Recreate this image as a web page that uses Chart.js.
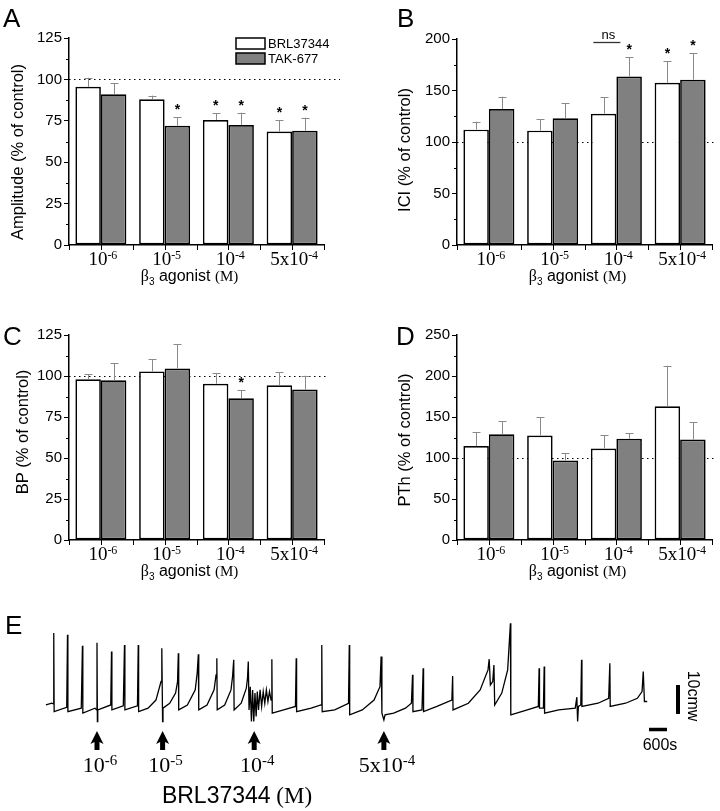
<!DOCTYPE html>
<html>
<head>
<meta charset="utf-8">
<script src="https://cdn.jsdelivr.net/npm/chart.js@4.4.1/dist/chart.umd.min.js"></script>
<style>
  body { margin: 0; background: #fff; }
  #fig { position: relative; width: 720px; height: 811px; }
  canvas { position: absolute; }
</style>
</head>
<body>
<div id="fig">
  <canvas id="cA" width="360" height="290" style="left:0;top:0"></canvas>
  <canvas id="cB" width="360" height="290" style="left:360px;top:0"></canvas>
  <canvas id="cC" width="360" height="290" style="left:0;top:290px"></canvas>
  <canvas id="cD" width="360" height="290" style="left:360px;top:290px"></canvas>
  <canvas id="cE" width="720" height="211" style="left:0;top:600px"></canvas>
</div>
<script>
// tick labels: 10^-6, 10^-5, 10^-4, 5x10^-4 (M)
const doseBase = ['10', '10', '10', '5x10'];
const doseExp = ['-6', '-5', '-4', '-4'];
const seriesNames = ['BRL37344', 'TAK-677'];

// A: amplitude (% of control)
const ampBRL = [95.5, 88, 75.5, 68.5];
const ampBRLErr = [5.5, 2.2, 4, 7];
const ampBRLSig = [0, 0, 1, 1];
const ampTAK = [91, 72, 72.5, 69];
const ampTAKErr = [6.6, 5.3, 7.4, 7.9];
const ampTAKSig = [0, 1, 1, 1];

// B: ICI (% of control)
const iciBRL = [112, 111, 127.5, 157.5];
const iciBRLErr = [7.7, 11, 16, 20.8];
const iciBRLSig = [0, 0, 0, 1];
const iciTAK = [132, 123, 163.5, 160.5];
const iciTAKErr = [12, 14.5, 19, 25.5];
const iciTAKSig = [0, 0, 1, 1];

// C: BP (% of control)
const bpBRL = [98, 102.8, 95.3, 94.3];
const bpBRLErr = [3, 7.4, 6.3, 8.1];
const bpBRLSig = [0, 0, 0, 0];
const bpTAK = [97.4, 104.5, 86.4, 91.7];
const bpTAKErr = [10.3, 14.8, 5.1, 8.5];
const bpTAKSig = [0, 0, 1, 0];

// D: PTh (% of control)
const pthBRL = [114.5, 127.5, 111.5, 163];
const pthBRLErr = [16.8, 22, 16, 49.5];
const pthBRLSig = [0, 0, 0, 0];
const pthTAK = [129, 97, 123.5, 122.5];
const pthTAKErr = [15.7, 8.7, 6.5, 21];
const pthTAKSig = [0, 0, 0, 0];

// E: cystometry trace, [time s, pressure cmw]
const tracePoints = [
  [30, 3.8], [226, 4.4], [278, 4.2], [292, 28.6], [305, 1.5], [724, 3.0], [750, 28.0], [763, 1.5],
  [1209, 2.7], [1248, 24.2], [1261, 1.0], [1667, 2.7], [1719, 2.1], [1733, 25.3], [1746, -1.9], [1759, 2.1],
  [2191, 3.8], [2217, 22.2], [2230, 2.1], [2610, 3.5], [2650, 24.5], [2663, 2.1], [3082, 3.5], [3108, 24.5],
  [3121, 1.5], [3436, 2.7], [3698, 5.5], [3868, 11.9], [3894, 23.4], [3920, -1.9], [3933, 2.7], [4156, 4.4],
  [4353, 7.9], [4418, 11.9], [4444, 21.6], [4457, 2.1], [4746, 3.8], [5008, 9.0], [5073, 14.8], [5112, 21.3],
  [5125, 2.1], [5401, 3.8], [5636, 9.0], [5702, 14.2], [5728, 19.9], [5741, 2.1], [5990, 3.8], [6200, 9.0],
  [6252, 13.6], [6291, 19.4], [6304, 2.1], [6540, 4.4], [6711, 9.6], [6750, 13.0], [6776, 18.8], [6802, 2.1],
  [6842, 10.1], [6881, -1.9], [6920, 9.0], [6959, -1.9], [6999, 7.9], [7038, -0.2], [7077, 8.4], [7117, 2.1],
  [7169, 9.0], [7221, 3.3], [7274, 8.4], [7326, 4.4], [7379, 9.0], [7431, 5.0], [7483, 8.4], [7536, 5.5],
  [7562, 19.6], [7575, 1.0], [7955, 2.1], [8348, 3.3], [8374, 19.9], [8387, 1.5], [8872, 2.7], [9200, 3.8],
  [9226, 24.5], [9239, 1.5], [9658, 2.1], [10117, 4.4], [10143, 24.5], [10156, 0.4], [10575, 2.1], [10968, 5.5],
  [11165, 10.1], [11204, 20.5], [11230, 1.0], [11296, -1.35], [11335, 0.4], [11623, 1.0], [12016, 2.7], [12213, 4.4],
  [12252, 14.2], [12265, 1.5], [12566, 2.1], [12606, 16.5], [12619, 1.5], [13064, 3.3], [13562, 5.5], [13588, 13.8],
  [13601, 2.1], [14112, 4.4], [14505, 9.0], [14767, 15.9], [14806, 19.6], [14846, 10.7], [14924, 11.9], [14964, 17.6],
  [14990, 3.8], [15226, 7.9], [15422, 15.9], [15514, 32.0], [15527, 0.4], [16077, 2.1], [16444, 3.3], [16470, 16.5],
  [16483, 2.7], [16614, 2.7], [16640, 17.1], [16653, 1.0], [17125, 2.1], [17675, 2.7], [17728, 6.5], [17754, -1.9],
  [17780, 3.3], [17859, 3.8], [17885, 19.4], [17898, 3.3], [18435, 4.4], [18789, 6.1], [18828, 18.2], [18841, 3.3],
  [19352, 4.4], [19745, 6.1], [19902, 8.4], [19942, 15.3], [19981, 5.0], [20073, 5.0]
];
const doseTimes = [1733, 3920, 6973, 11296];
const doseLabelBase = ['10', '10', '10', '5x10'];
const doseLabelExp = ['-6', '-5', '-4', '-4'];

const SANS = "Arial, 'Liberation Sans', Helvetica, sans-serif";
const SERIF = "'Times New Roman', 'Liberation Serif', serif";

function seg(ctx, x1, y1, x2, y2) {
  ctx.beginPath(); ctx.moveTo(x1, y1); ctx.lineTo(x2, y2); ctx.stroke();
}

// draws text runs (mixed fonts) centred on cx
function runs(ctx, parts, cx, by) {
  let w = 0;
  parts.forEach(p => { ctx.font = p.f; p.w = ctx.measureText(p.t).width; w += p.w; });
  let x0 = cx - w / 2;
  ctx.textAlign = 'left'; ctx.textBaseline = 'alphabetic';
  parts.forEach(p => { ctx.font = p.f; ctx.fillText(p.t, x0, by + (p.dy || 0)); x0 += p.w; });
}

function supLabel(ctx, base, exp, cx, by, size, expSize, raise) {
  runs(ctx, [{t: base, f: size + 'px ' + SERIF}, {t: exp, f: expSize + 'px ' + SERIF, dy: -raise}], cx, by);
}

function panelDecor(o) {
  return {
    id: 'decor',
    beforeDatasetsDraw(chart) {
      const {ctx, chartArea: a, scales: {y}} = chart;
      const py = Math.round(y.getPixelForValue(100)) + 0.5;
      ctx.save();
      ctx.strokeStyle = '#000'; ctx.lineWidth = 1;
      ctx.setLineDash([1.5, 3.5]);
      seg(ctx, a.left, py, o.dotEnd, py);
      ctx.restore();
    },
    afterDraw(chart) {
      const {ctx, chartArea: a, scales: {x, y}} = chart;
      ctx.save();
      ctx.strokeStyle = '#000'; ctx.fillStyle = '#000'; ctx.lineWidth = 1;

      // minor y ticks
      for (let v = o.step / 2; v < o.max; v += o.step) {
        const py = Math.round(y.getPixelForValue(v)) + 0.5;
        seg(ctx, a.left - 3, py, a.left, py);
      }
      // x ticks at category centres and boundaries
      const n = chart.data.labels.length;
      const cw = (a.right - a.left) / n;
      for (let i = 0; i <= n; i++) {
        const px = Math.round(a.left + i * cw) + 0.5;
        seg(ctx, px, a.bottom, px, a.bottom + 5);
      }
      for (let i = 0; i < n; i++) {
        const px = Math.round(x.getPixelForValue(i)) + 0.5;
        seg(ctx, px, a.bottom, px, a.bottom + 5);
      }

      // error bars and stars
      chart.data.datasets.forEach((ds, di) => {
        chart.getDatasetMeta(di).data.forEach((bar, i) => {
          const top = y.getPixelForValue(ds.data[i] + ds.err[i]);
          ctx.strokeStyle = '#8a8a8a'; ctx.lineWidth = 1;
          const bx = Math.round(bar.x) + 0.5;
          seg(ctx, bx, bar.y, bx, top);
          seg(ctx, bx - 4, Math.round(top) + 0.5, bx + 4, Math.round(top) + 0.5);
          if (ds.sig[i]) {
            ctx.fillStyle = '#000';
            ctx.font = 'bold 14px ' + SANS;
            ctx.textAlign = 'center'; ctx.textBaseline = 'alphabetic';
            ctx.fillText('*', bar.x, top - 3);
          }
        });
      });

      ctx.fillStyle = '#000'; ctx.strokeStyle = '#000';
      // x tick labels
      for (let i = 0; i < n; i++) {
        supLabel(ctx, doseBase[i], doseExp[i], x.getPixelForValue(i) + 2, a.bottom + 20, 19, 12, 6);
      }
      // x title
      runs(ctx, [
        {t: '\u03b2', f: '16px ' + SERIF},
        {t: '3', f: '10px ' + SANS, dy: 4},
        {t: ' agonist ', f: '16px ' + SANS},
        {t: '(M)', f: '15px ' + SERIF}
      ], (a.left + a.right) / 2 - 7, a.bottom + 36);

      // y title
      ctx.save();
      ctx.translate(o.titleX, o.titleY);
      ctx.rotate(-Math.PI / 2);
      ctx.font = '16.5px ' + SANS;
      ctx.textAlign = 'center'; ctx.textBaseline = 'middle';
      ctx.fillText(o.title, 0, 0);
      ctx.restore();

      // panel letter
      ctx.font = '26px ' + SANS;
      ctx.textAlign = 'left'; ctx.textBaseline = 'alphabetic';
      ctx.fillText(o.letter, o.letterX, o.letterY);

      if (o.legend) {
        const boxes = [['#fff', 38], ['#808080', 53]];
        boxes.forEach((b, i) => {
          ctx.fillStyle = b[0];
          ctx.fillRect(236, b[1], 29, 11);
          ctx.lineWidth = 1.5; ctx.strokeStyle = '#000';
          ctx.strokeRect(236, b[1], 29, 11);
          ctx.fillStyle = '#000';
          ctx.font = '13px ' + SANS;
          ctx.textBaseline = 'middle';
          ctx.fillText(seriesNames[i], 268, b[1] + 6);
        });
      }
      if (o.ns) {
        const cx = x.getPixelForValue(o.ns);
        ctx.lineWidth = 1.3; ctx.strokeStyle = '#333';
        seg(ctx, cx - 23, 42.5, cx + 4, 42.5);
        ctx.fillStyle = '#000';
        ctx.font = '13px ' + SANS;
        ctx.textAlign = 'center'; ctx.textBaseline = 'alphabetic';
        ctx.fillText('ns', cx - 8, 39);
      }
      ctx.restore();
    }
  };
}

function barPanel(id, o) {
  const cv = document.getElementById(id);
  const W = cv.width, H = cv.height;
  const dsBase = {borderColor: '#000', borderWidth: 1.7, borderSkipped: false,
                  categoryPercentage: 0.8, barPercentage: 1};
  return new Chart(cv, {
    type: 'bar',
    data: {
      labels: doseBase.map((b, i) => b + doseExp[i]),
      datasets: [
        Object.assign({label: seriesNames[0], data: o.brl, err: o.brlErr, sig: o.brlSig, backgroundColor: '#fff'}, dsBase),
        Object.assign({label: seriesNames[1], data: o.tak, err: o.takErr, sig: o.takSig, backgroundColor: '#808080'}, dsBase)
      ]
    },
    options: {
      responsive: false,
      animation: false,
      events: [],
      layout: {padding: {left: 0, top: o.area[1], right: W - o.area[2], bottom: 0}},
      plugins: {legend: {display: false}, tooltip: {enabled: false}},
      scales: {
        x: {
          grid: {display: false},
          border: {color: '#000', width: 1.5},
          ticks: {display: false},
          afterFit: s => { s.height = H - o.area[3]; }
        },
        y: {
          min: 0, max: o.max,
          ticks: {stepSize: o.step, color: '#000', font: {family: SANS, size: 15}, padding: 2},
          grid: {drawOnChartArea: false, color: '#000', tickLength: 5},
          border: {color: '#000', width: 1.5},
          afterFit: s => { s.width = o.area[0]; }
        }
      }
    },
    plugins: [panelDecor(o)]
  });
}

barPanel('cA', {brl: ampBRL, brlErr: ampBRLErr, brlSig: ampBRLSig, tak: ampTAK, takErr: ampTAKErr, takSig: ampTAKSig,
  area: [69, 38, 324, 245], max: 125, step: 25, title: 'Amplitude (% of control)', titleX: 18.5, titleY: 152,
  dotEnd: 340, letter: 'A', letterX: 3, letterY: 27, legend: true});
barPanel('cB', {brl: iciBRL, brlErr: iciBRLErr, brlSig: iciBRLSig, tak: iciTAK, takErr: iciTAKErr, takSig: iciTAKSig,
  area: [97, 39, 352, 245], max: 200, step: 50, title: 'ICI (% of control)', titleX: 45, titleY: 150,
  dotEnd: 357, letter: 'B', letterX: 37, letterY: 27, ns: 2});
barPanel('cC', {brl: bpBRL, brlErr: bpBRLErr, brlSig: bpBRLSig, tak: bpTAK, takErr: bpTAKErr, takSig: bpTAKSig,
  area: [69, 45, 324, 250], max: 125, step: 25, title: 'BP (% of control)', titleX: 23.5, titleY: 142,
  dotEnd: 328, letter: 'C', letterX: 3, letterY: 55});
barPanel('cD', {brl: pthBRL, brlErr: pthBRLErr, brlSig: pthBRLSig, tak: pthTAK, takErr: pthTAKErr, takSig: pthTAKSig,
  area: [97, 45, 352, 250], max: 250, step: 50, title: 'PTh (% of control)', titleX: 45, titleY: 150,
  dotEnd: 357, letter: 'D', letterX: 36, letterY: 55});

// E: raw trace with dose arrows and scale bars
const traceDecor = {
  id: 'traceDecor',
  afterDraw(chart) {
    const {ctx, scales: {x, y}} = chart;
    ctx.save();
    ctx.fillStyle = '#000'; ctx.strokeStyle = '#000';
    ctx.font = '26px ' + SANS;
    ctx.textAlign = 'left'; ctx.textBaseline = 'alphabetic';
    ctx.fillText('E', 5, 34);

    doseTimes.forEach((t, i) => {
      const ax = x.getPixelForValue(t);
      ctx.beginPath();
      ctx.moveTo(ax, 131);
      ctx.lineTo(ax - 6.5, 144);
      ctx.lineTo(ax - 2.5, 142);
      ctx.lineTo(ax - 2.5, 150);
      ctx.lineTo(ax + 2.5, 150);
      ctx.lineTo(ax + 2.5, 142);
      ctx.lineTo(ax + 6.5, 144);
      ctx.closePath();
      ctx.fill();
      supLabel(ctx, doseLabelBase[i], doseLabelExp[i], ax + 3, 172, 22, 15, 7);
    });
    runs(ctx, [{t: 'BRL37344', f: '23px ' + SANS}, {t: ' (M)', f: '23px ' + SERIF}], 237, 203);

    // scale bars: 10 cmw and 600 s
    ctx.lineWidth = 4;
    const vx = x.getPixelForValue(21100);
    seg(ctx, vx, y.getPixelForValue(0.7), vx, y.getPixelForValue(10.7));
    ctx.lineWidth = 3.5;
    const hy = y.getPixelForValue(-4.66);
    seg(ctx, x.getPixelForValue(20133), hy, x.getPixelForValue(20733), hy);

    ctx.font = '16px ' + SANS;
    ctx.textAlign = 'center'; ctx.textBaseline = 'alphabetic';
    ctx.fillText('600s', 660, 150);
    ctx.save();
    ctx.translate(692, 96);
    ctx.rotate(Math.PI / 2);
    ctx.textBaseline = 'middle';
    ctx.fillText('10cmw', 0, 0);
    ctx.restore();
    ctx.restore();
  }
};

new Chart(document.getElementById('cE'), {
  type: 'line',
  data: {
    datasets: [{
      data: tracePoints.map(p => ({x: p[0], y: p[1]})),
      borderColor: '#000',
      borderWidth: 1.3,
      pointRadius: 0,
      tension: 0,
      fill: false
    }]
  },
  options: {
    responsive: false,
    animation: false,
    events: [],
    layout: {padding: {left: 45, right: 45, top: 14.5, bottom: 80.5}},
    plugins: {legend: {display: false}, tooltip: {enabled: false}},
    scales: {
      x: {type: 'linear', min: 0, max: 21000, display: false},
      y: {min: -5, max: 35, display: false}
    }
  },
  plugins: [traceDecor]
});
</script>
</body>
</html>
